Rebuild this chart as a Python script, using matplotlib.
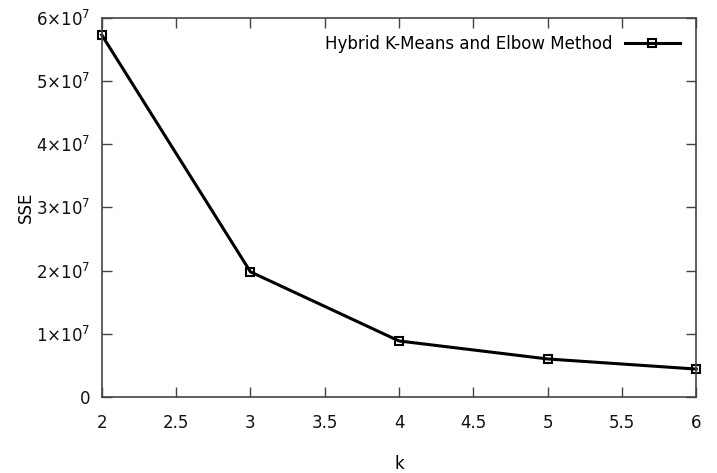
import matplotlib
matplotlib.use("Agg")
import matplotlib.pyplot as plt
from matplotlib.ticker import FuncFormatter

plt.rcParams.update({'font.size': 12, 'font.family': 'DejaVu Sans',
                     'mathtext.default': 'regular'})

# data
k = [2, 3, 4, 5, 6]
sse = [5.73e7, 1.98e7, 0.885e7, 0.60e7, 0.44e7]
label = "Hybrid K-Means and Elbow Method"

def sci(v, pos):
    if v == 0:
        return "0"
    return r"$%d{\times}10^{7}$" % round(v / 1e7)

fig = plt.figure(figsize=(7.17, 4.73), dpi=100)
ax = fig.add_axes([0.142, 0.161, 0.829, 0.801])

ax.plot(k, sse, color="black", lw=2.2, marker="s", ms=5.5,
        mfc="none", mec="black", mew=1.5, label=label, clip_on=False)

ax.set_xlim(2, 6)
ax.set_ylim(0, 6e7)
ax.set_xticks([2, 2.5, 3, 3.5, 4, 4.5, 5, 5.5, 6])
ax.set_xticklabels(["2", "2.5", "3", "3.5", "4", "4.5", "5", "5.5", "6"])
ax.set_yticks([0, 1e7, 2e7, 3e7, 4e7, 5e7, 6e7])
ax.yaxis.set_major_formatter(FuncFormatter(sci))

ax.tick_params(direction="in", length=7, width=1, top=True, right=True,
               colors="#444444", labelcolor="#111111")
ax.tick_params(axis="x", pad=12)
ax.tick_params(axis="y", pad=8)
for s in ax.spines.values():
    s.set_color("#444444")
    s.set_linewidth(1.2)

ax.set_xlabel("k", labelpad=17)
ax.set_ylabel("SSE", labelpad=1)

ax.legend(loc="upper right", frameon=False, markerfirst=False,
          handlelength=3.3, handletextpad=0.7, borderaxespad=0.6)

fig.savefig("out.png", dpi=100)
